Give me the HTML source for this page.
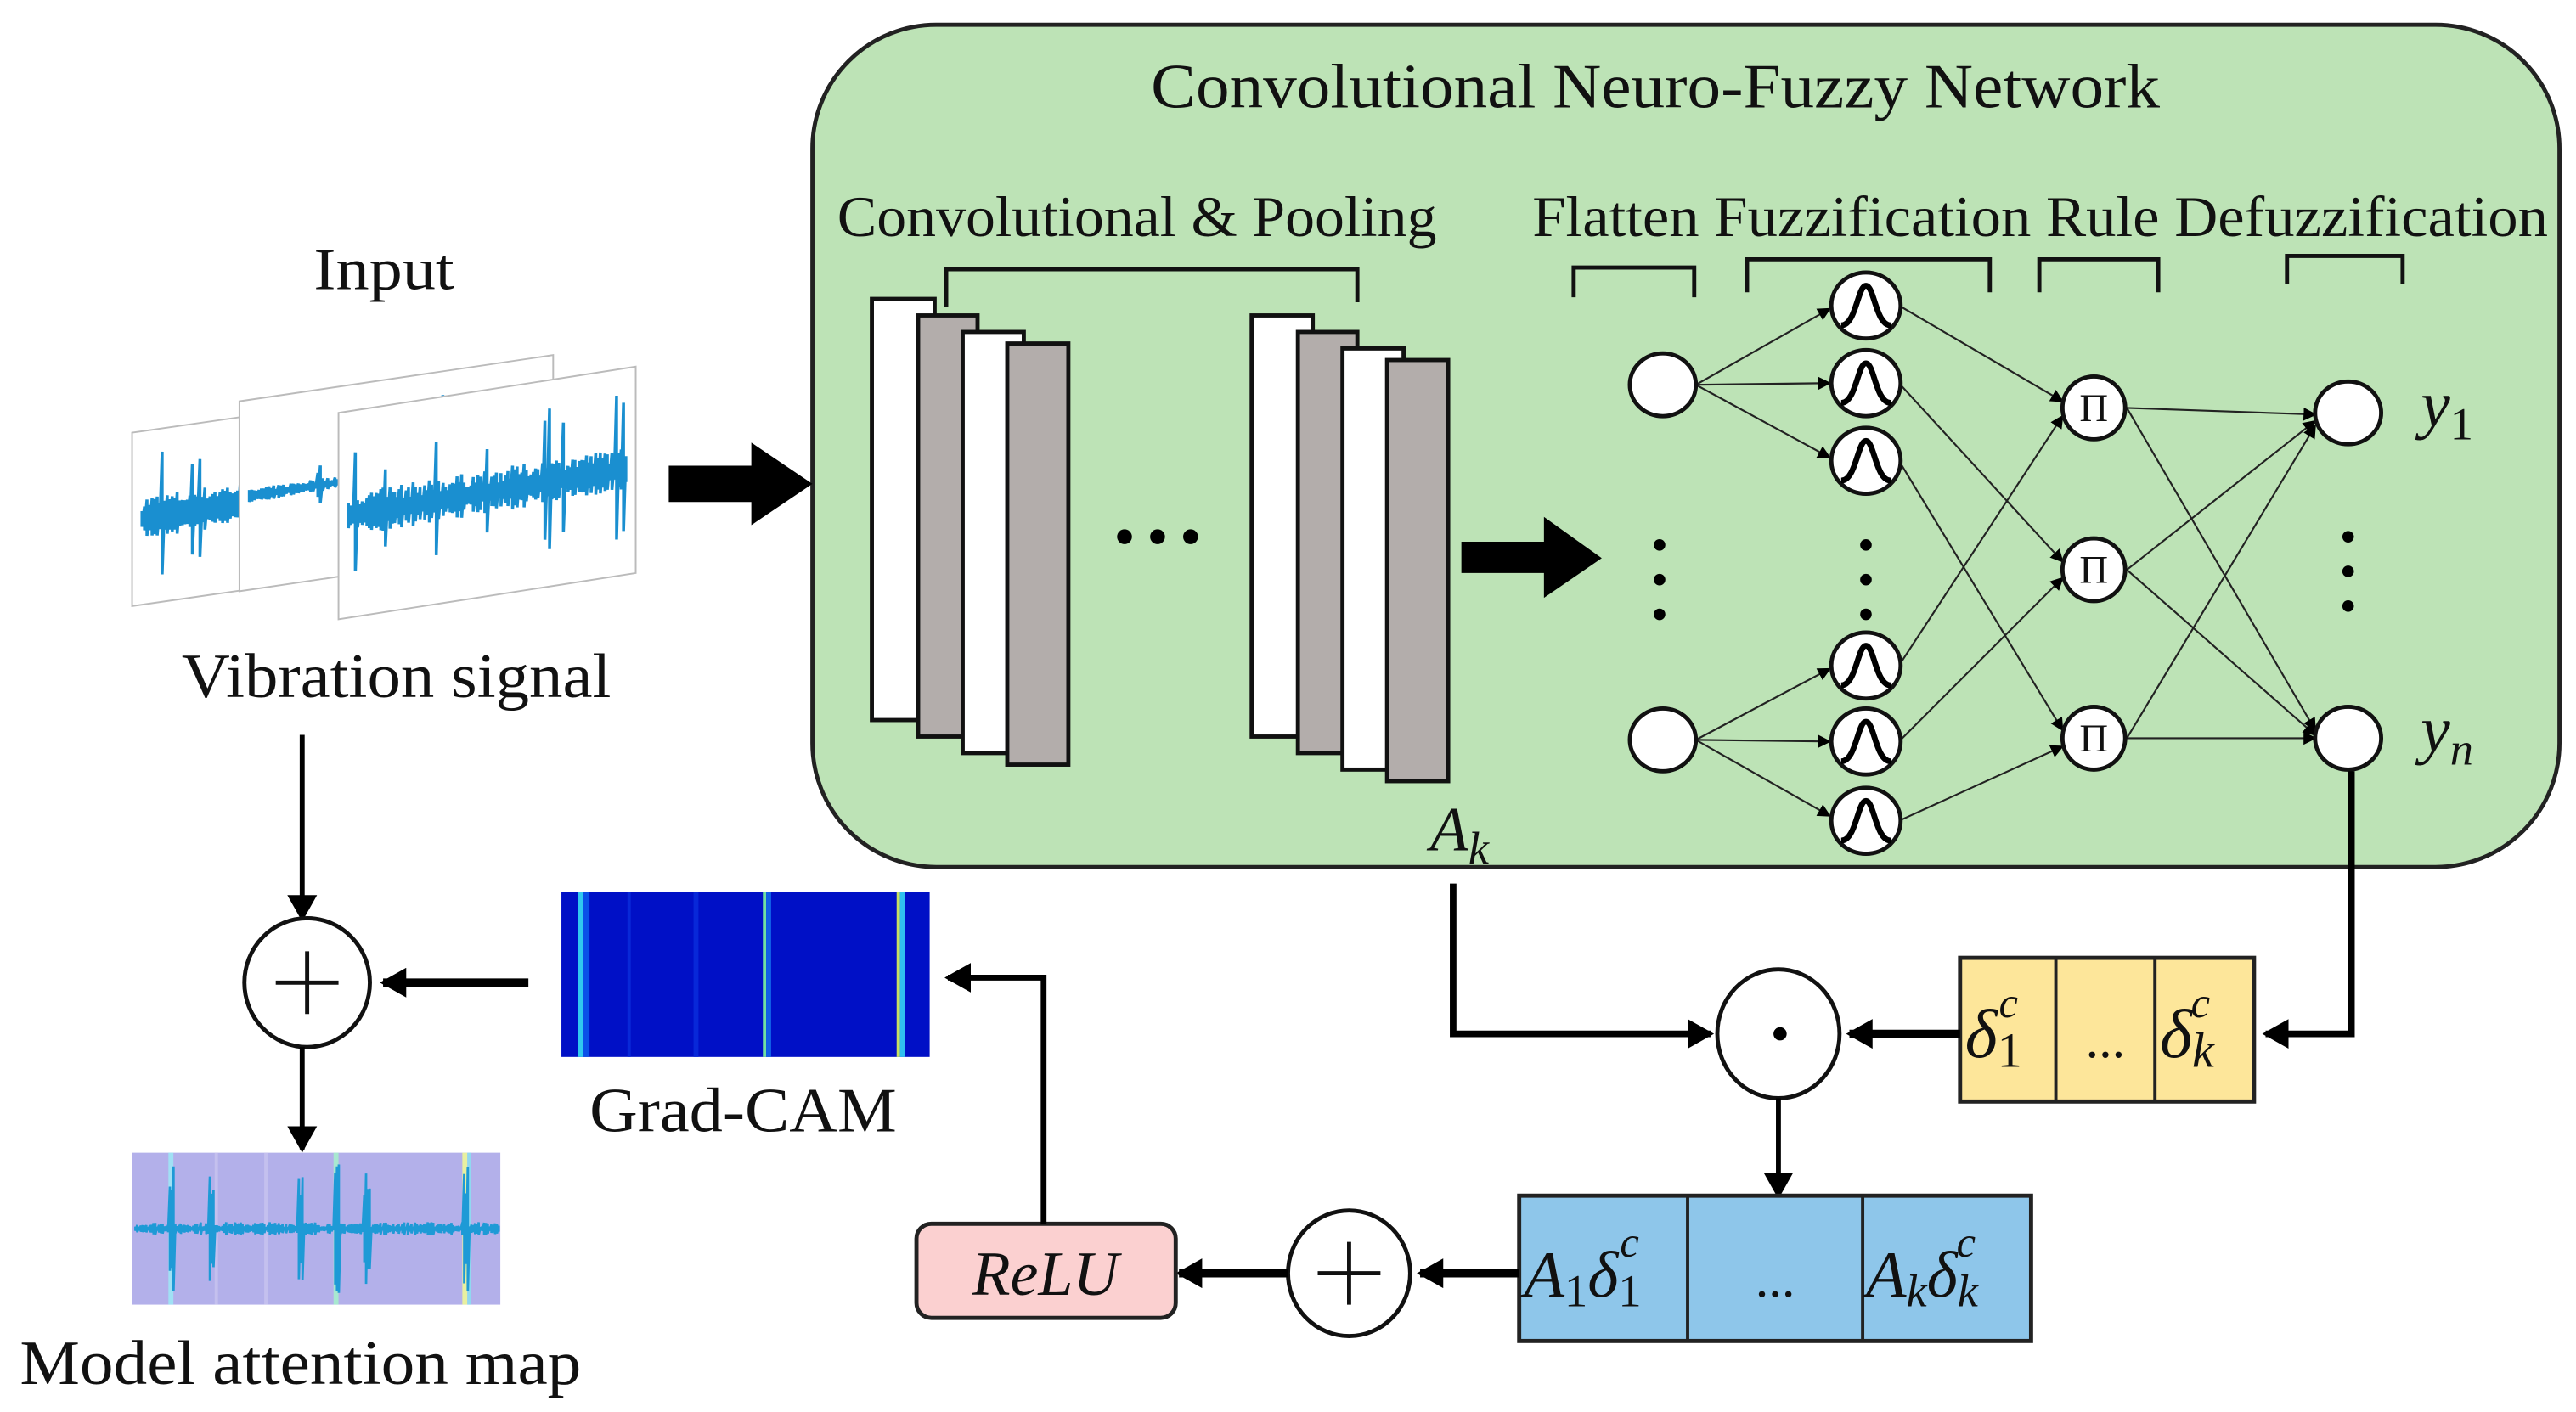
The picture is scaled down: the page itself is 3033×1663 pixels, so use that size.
<!DOCTYPE html>
<html><head><meta charset="utf-8"><style>
html,body{margin:0;padding:0;background:#fff;}
svg{display:block;}
text{font-family:"Liberation Serif",serif;fill:#111;}
.it{font-style:italic;}
</style></head><body>
<svg id="s" width="3033" height="1663" viewBox="0 0 1560 855" preserveAspectRatio="none" xmlns="http://www.w3.org/2000/svg">
<defs>
<marker id="ah" markerWidth="8" markerHeight="8" refX="7" refY="4" orient="auto" markerUnits="userSpaceOnUse"><path d="M0,0 L8,4 L0,8 Z" fill="#000"/></marker>
<marker id="ab" markerWidth="16" markerHeight="18" refX="14" refY="9" orient="auto" markerUnits="userSpaceOnUse"><path d="M0,0 L16,9 L0,18 Z" fill="#000"/></marker>
</defs>
<rect x="492" y="15" width="1058" height="510" rx="75" ry="75" fill="#bde3b6" stroke="#222" stroke-width="2.5"/>
<text x="697" y="65" font-size="38" textLength="611" lengthAdjust="spacingAndGlyphs">Convolutional Neuro-Fuzzy Network</text>
<text x="507" y="143" font-size="35" textLength="363" lengthAdjust="spacingAndGlyphs">Convolutional  &amp; Pooling</text>
<text x="928" y="143" font-size="35" textLength="615" lengthAdjust="spacingAndGlyphs">Flatten Fuzzification  Rule  Defuzzification</text>
<text x="190" y="175" font-size="36" textLength="85" lengthAdjust="spacingAndGlyphs">Input</text>
<text x="110" y="422" font-size="38" textLength="260" lengthAdjust="spacingAndGlyphs">Vibration signal</text>

<g id="plots"></g>

<path d="M405,282 H455 V268 L492,293 L455,318 V304 H405 Z" fill="#000"/>

<g stroke="#111" stroke-width="2.5">
<rect x="528" y="181" width="38" height="255" fill="#fff"/>
<rect x="556" y="191" width="36" height="255" fill="#b3adab"/>
<rect x="583" y="201" width="37" height="255" fill="#fff"/>
<rect x="610" y="208" width="37" height="255" fill="#b3adab"/>
<rect x="758" y="191" width="37" height="255" fill="#fff"/>
<rect x="786" y="201" width="36" height="255" fill="#b3adab"/>
<rect x="813" y="211" width="37" height="255" fill="#fff"/>
<rect x="840" y="218" width="37" height="255" fill="#b3adab"/>
</g>
<path d="M573,186 V163 H822 V183" fill="none" stroke="#111" stroke-width="2.5"/>
<circle cx="681" cy="325" r="4.5"/><circle cx="701" cy="325" r="4.5"/><circle cx="721" cy="325" r="4.5"/>
<path d="M885,328 H935 V313 L970,338 L935,362 V347 H885 Z" fill="#000"/>
<text x="866" y="515" font-size="38" class="it">A<tspan font-size="28" dy="8">k</tspan></text>

<g fill="none" stroke="#111" stroke-width="2.5">
<path d="M953,180 V162 H1026 V180"/>
<path d="M1058,177 V157 H1205 V177"/>
<path d="M1235,177 V157 H1307 V177"/>
<path d="M1385,172 V155 H1455 V172"/>
</g>

<g stroke="#222" stroke-width="1.1" marker-end="url(#ah)" fill="none">
<line x1="1027" y1="233" x2="1108" y2="187"/>
<line x1="1027" y1="233" x2="1108" y2="232"/>
<line x1="1027" y1="233" x2="1108" y2="277"/>
<line x1="1027" y1="448" x2="1108" y2="405"/>
<line x1="1027" y1="448" x2="1108" y2="449"/>
<line x1="1027" y1="448" x2="1108" y2="494"/>
<line x1="1150" y1="185" x2="1249" y2="243"/>
<line x1="1150" y1="232" x2="1249" y2="340"/>
<line x1="1150" y1="279" x2="1249" y2="442"/>
<line x1="1150" y1="403" x2="1249" y2="252"/>
<line x1="1150" y1="449" x2="1249" y2="350"/>
<line x1="1150" y1="497" x2="1249" y2="452"/>
<line x1="1288" y1="247" x2="1402" y2="251"/>
<line x1="1288" y1="247" x2="1402" y2="442"/>
<line x1="1288" y1="345" x2="1402" y2="255"/>
<line x1="1288" y1="345" x2="1402" y2="445"/>
<line x1="1288" y1="447" x2="1402" y2="258"/>
<line x1="1288" y1="447" x2="1402" y2="447"/>
</g>

<g stroke="#111" stroke-width="2.5" fill="#fff">
<ellipse cx="1007" cy="233" rx="20" ry="19"/>
<ellipse cx="1007" cy="448" rx="20" ry="19"/>
<ellipse cx="1422" cy="250" rx="20" ry="19"/>
<ellipse cx="1422" cy="447" rx="20" ry="19"/>
<ellipse cx="1268" cy="247" rx="19" ry="19"/>
<ellipse cx="1268" cy="345" rx="19" ry="19"/>
<ellipse cx="1268" cy="447" rx="19" ry="19"/>
</g>
<g id="fuzz"></g>
<g font-size="24" text-anchor="middle">
<text x="1268" y="255">Π</text><text x="1268" y="353">Π</text><text x="1268" y="455">Π</text>
</g>
<g fill="#000">
<circle cx="1005" cy="330" r="3.5"/><circle cx="1005" cy="351" r="3.5"/><circle cx="1005" cy="372" r="3.5"/>
<circle cx="1130" cy="330" r="3.5"/><circle cx="1130" cy="351" r="3.5"/><circle cx="1130" cy="372" r="3.5"/>
<circle cx="1422" cy="325" r="3.5"/><circle cx="1422" cy="346" r="3.5"/><circle cx="1422" cy="367" r="3.5"/>
</g>
<text x="1466" y="258" font-size="40" class="it">y<tspan font-size="28" dy="8" font-style="normal">1</tspan></text>
<text x="1466" y="455" font-size="40" class="it">y<tspan font-size="28" dy="8">n</tspan></text>

<path d="M1424,467 V626 H1372" fill="none" stroke="#000" stroke-width="4" marker-end="url(#ab)"/>
<rect x="1187" y="580" width="178" height="87" fill="#fde69a" stroke="#222" stroke-width="2.5"/>
<line x1="1245" y1="580" x2="1245" y2="667" stroke="#222" stroke-width="2"/>
<line x1="1305" y1="580" x2="1305" y2="667" stroke="#222" stroke-width="2"/>
<text x="1190" y="640" font-size="42" class="it">δ<tspan font-size="30" dy="6" font-style="normal">1</tspan><tspan font-size="26" dx="-14" dy="-30">c</tspan></text>
<text x="1275" y="640" font-size="32" text-anchor="middle">...</text>
<text x="1308" y="640" font-size="42" class="it">δ<tspan font-size="30" dy="6">k</tspan><tspan font-size="26" dx="-14" dy="-30">c</tspan></text>

<path d="M1187,626 H1120" fill="none" stroke="#000" stroke-width="5" marker-end="url(#ab)"/>
<path d="M880,535 V626 H1036" fill="none" stroke="#000" stroke-width="4" marker-end="url(#ab)"/>
<ellipse cx="1077" cy="626" rx="37" ry="39" fill="#fff" stroke="#111" stroke-width="2.5"/>
<circle cx="1078" cy="626" r="4"/>
<path d="M1077,665 V724" fill="none" stroke="#000" stroke-width="3" marker-end="url(#ab)"/>

<rect x="920" y="724" width="310" height="88" fill="#8ec6ea" stroke="#222" stroke-width="2.5"/>
<line x1="1022" y1="724" x2="1022" y2="812" stroke="#222" stroke-width="2"/>
<line x1="1128" y1="724" x2="1128" y2="812" stroke="#222" stroke-width="2"/>
<text x="923" y="785" font-size="40" class="it">A<tspan font-size="28" dy="6" font-style="normal">1</tspan><tspan dy="-6">δ</tspan><tspan font-size="28" dy="6" font-style="normal">1</tspan><tspan font-size="26" dx="-13" dy="-30">c</tspan></text>
<text x="1075" y="785" font-size="32" text-anchor="middle">...</text>
<text x="1130" y="785" font-size="40" class="it">A<tspan font-size="28" dy="6">k</tspan><tspan dy="-6">δ</tspan><tspan font-size="28" dy="6">k</tspan><tspan font-size="26" dx="-13" dy="-30">c</tspan></text>

<path d="M920,771 H860" fill="none" stroke="#000" stroke-width="5" marker-end="url(#ab)"/>
<ellipse cx="817" cy="771" rx="37" ry="38" fill="#fff" stroke="#111" stroke-width="2.5"/>
<path d="M798,771 H836 M817,752 V790" stroke="#111" stroke-width="2.5"/>
<path d="M780,771 H714" fill="none" stroke="#000" stroke-width="5" marker-end="url(#ab)"/>
<rect x="555" y="741" width="157" height="57" rx="9" fill="#fbd0d0" stroke="#222" stroke-width="2.5"/>
<text x="633" y="784" font-size="38" class="it" text-anchor="middle">ReLU</text>
<path d="M632,741 V592 H574" fill="none" stroke="#000" stroke-width="3.5" marker-end="url(#ab)"/>

<rect x="340" y="540" width="223" height="100" fill="#0010c6"/>
<rect x="350" y="540" width="3" height="100" fill="#30c8f0"/>
<rect x="353" y="540" width="4" height="100" fill="#0a50e8"/>
<rect x="380" y="540" width="2" height="100" fill="#0828d8"/>
<rect x="420" y="540" width="3" height="100" fill="#0828d8"/>
<rect x="462" y="540" width="2" height="100" fill="#70e0a0"/>
<rect x="464" y="540" width="3" height="100" fill="#1060e8"/>
<rect x="543" y="540" width="2" height="100" fill="#c8e060"/>
<rect x="545" y="540" width="3" height="100" fill="#30c0f0"/>
<text x="357" y="685" font-size="38" textLength="186" lengthAdjust="spacingAndGlyphs">Grad-CAM</text>

<path d="M320,595 H232" fill="none" stroke="#000" stroke-width="5" marker-end="url(#ab)"/>
<path d="M183,445 V556" fill="none" stroke="#000" stroke-width="3" marker-end="url(#ab)"/>
<ellipse cx="186" cy="595" rx="38" ry="39" fill="#fff" stroke="#111" stroke-width="2.5"/>
<path d="M167,595 H205 M186,576 V614" stroke="#111" stroke-width="2.5"/>
<path d="M183,634 V696" fill="none" stroke="#000" stroke-width="3" marker-end="url(#ab)"/>

<rect x="80" y="698" width="223" height="92" fill="#b3b0ea"/>
<rect x="102" y="698" width="3" height="92" fill="#a0e0f4"/>
<rect x="130" y="698" width="2" height="92" fill="#c4c0ee"/>
<rect x="160" y="698" width="2" height="92" fill="#c4c0ee"/>
<rect x="202" y="698" width="3" height="92" fill="#a8e8d0"/>
<rect x="280" y="698" width="3" height="92" fill="#e8f0a0"/>
<rect x="283" y="698" width="2" height="92" fill="#90d8f0"/>
<g id="att"></g>
<text x="12" y="838" font-size="38" textLength="340" lengthAdjust="spacingAndGlyphs">Model attention map</text>
</svg>
<script>
(function(){
var NS="http://www.w3.org/2000/svg";
var seed=7;function r(){seed=(seed*16807)%2147483647;return seed/2147483647;}
function el(p,t,a){var e=document.createElementNS(NS,t);for(var k in a)e.setAttribute(k,a[k]);p.appendChild(e);return e;}
var fz=document.getElementById('fuzz');
[185,232,279,403,449,497].forEach(function(y){
 el(fz,'ellipse',{cx:1130,cy:y,rx:21,ry:20,fill:'#fff',stroke:'#111','stroke-width':2.5});
 el(fz,'path',{d:'M1115,'+(y+12)+' C1124,'+(y+12)+' 1125,'+(y-12)+' 1130,'+(y-12)+' C1135,'+(y-12)+' 1136,'+(y+12)+' 1145,'+(y+12),fill:'none',stroke:'#000','stroke-width':3.5});
});
var pl=document.getElementById('plots');
var panels=[[80,262,195,75,105],[145,243,190,90,115],[205,250,180,115,125]];
panels.forEach(function(p,i){
 var x=p[0],y=p[1],w=p[2],h=p[4];
 var sk=-28;
 el(pl,'path',{d:'M'+x+','+(y)+' L'+(x+w)+','+(y+sk)+' L'+(x+w)+','+(y+sk+h)+' L'+x+','+(y+h)+' Z',fill:'#fff',stroke:'#bbb','stroke-width':1});
 var d='',n=120;
 for(var j=0;j<=n;j++){
  var t=j/n;var xx=x+6+t*(w-12);var base=y+h*0.5+sk*t;
  var a=5+r()*9; if(r()<0.1)a=22+r()*25;
  if(i==1&&t<0.5)a*=0.3;
  d+=(j?'L':'M')+xx.toFixed(1)+','+(base-a).toFixed(1)+'L'+xx.toFixed(1)+','+(base+a*0.9).toFixed(1);
 }
 el(pl,'path',{d:d,stroke:'#1a8fd0','stroke-width':1.8,fill:'none'});
});
var at=document.getElementById('att');var d='';
for(var j=0;j<=200;j++){var xx=82+j*1.1;var a=1+r()*3;
 if([104,128,182,204,222,282].some(function(c){return Math.abs(xx-c)<2;}))a=20+r()*20;
 d+=(j?'L':'M')+xx.toFixed(1)+','+(744-a).toFixed(1)+'L'+xx.toFixed(1)+','+(744+a).toFixed(1);}
el(at,'path',{d:d,stroke:'#1e9ad6','stroke-width':1.4,fill:'none'});
})();
</script>
</body></html>
